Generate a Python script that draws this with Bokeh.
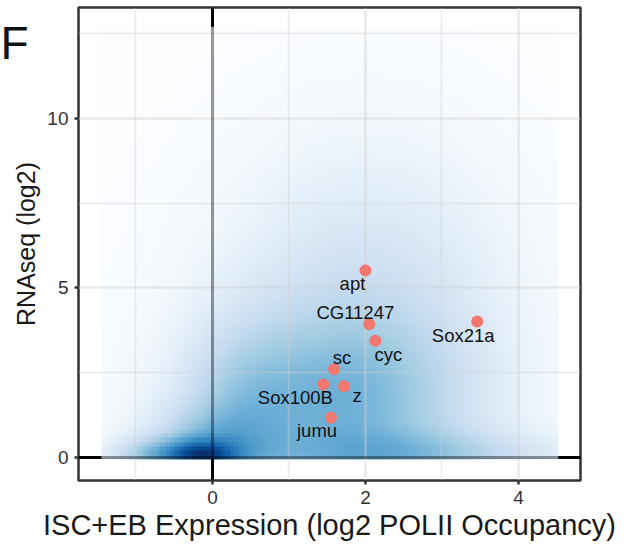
import numpy as np
from bokeh.plotting import figure
from bokeh.models import Range1d, FixedTicker, Grid, Label, LinearColorMapper, ColumnDataSource
from bokeh.core.properties import value
from bokeh.palettes import Blues9
from bokeh.embed import file_html
from bokeh.resources import INLINE

# ---------------- data ----------------
genes = ["apt", "CG11247", "cyc", "Sox21a", "sc", "Sox100B", "z", "jumu"]
gene_x = [2.00, 2.05, 2.13, 3.46, 1.59, 1.45, 1.72, 1.55]
gene_y = [5.51, 3.93, 3.44, 4.01, 2.60, 2.15, 2.10, 1.17]

x_ticks = [0, 2, 4]
y_ticks = [0, 5, 10]
ref_x = [0]
ref_y = [0]

# 2D density of all genes: blob centres, spreads and weights estimated from the raster
#          peak   wide-pk left   band   plateau upper  left-cloud
blob_x  = [-0.15, -0.10, -0.80, 2.80, 1.60, 2.00, 0.35]
blob_y  = [0.00,  0.00,  0.00,  0.00, 1.30, 4.50, 1.60]
blob_sx = [0.30,  0.55,  0.40,  1.30, 1.20, 1.30, 0.50]
blob_sy = [0.30,  0.90,  0.35,  0.50, 2.00, 3.20, 1.60]
blob_w  = [0.38,  0.30,  0.25,  0.20, 0.34, 0.17, 0.13]
dens_x_lo, dens_x_hi = -1.45, 4.52
dens_y_lo, dens_y_hi = -0.06, 12.70
dens_n = 100

# ---------------- density grid ----------------
gxs = np.linspace(dens_x_lo, dens_x_hi, dens_n)
gys = np.linspace(dens_y_lo, dens_y_hi, dens_n)
XX, YY = np.meshgrid(gxs, gys)
dens = np.zeros_like(XX)
for bx, by, sx, sy, w in zip(blob_x, blob_y, blob_sx, blob_sy, blob_w):
    dens += w * np.exp(-0.5 * (((XX - bx) / sx) ** 2 + ((YY - by) / sy) ** 2))

# smooth Blues colour ramp (light -> dark)
stops = ["#fbfdff"] + list(reversed(Blues9))[1:]
def _rgb(h):
    return [int(h[i:i + 2], 16) for i in (1, 3, 5)]
srgb = np.array([_rgb(c) for c in stops], dtype=float)
pal = []
for t in np.linspace(0, 1, 256):
    pos = t * (len(stops) - 1)
    i = min(int(pos), len(stops) - 2)
    f = pos - i
    c = srgb[i] * (1 - f) + srgb[i + 1] * f
    pal.append("#%02x%02x%02x" % tuple(int(round(v)) for v in c))

FONT = "Liberation Sans"

p = figure(width=633, height=546, output_backend="svg", toolbar_location=None,
           x_range=Range1d(-1.75, 4.81), y_range=Range1d(-0.68, 13.27),
           min_border_left=78, min_border_right=53, min_border_top=7, min_border_bottom=66)
p.background_fill_color = "white"
p.border_fill_color = "white"
p.outline_line_color = "#333333"
p.outline_line_width = 2.5
p.xgrid.visible = False
p.ygrid.visible = False

# reference lines underneath the raster (black outside the raster)
p.vspan(x=ref_x, line_color="black", line_width=3, level="image")
p.hspan(y=ref_y, line_color="black", line_width=3, level="image")

mapper = LinearColorMapper(palette=pal, low=0, high=float(dens.max()))
p.image(image=[dens], x=dens_x_lo, y=dens_y_lo, dw=dens_x_hi - dens_x_lo,
        dh=dens_y_hi - dens_y_lo, color_mapper=mapper, level="image")

# grid lines (major and minor), drawn faintly over the raster
for dim, major, minor in [(0, [2, 4], [-1, 1, 3]), (1, [5, 10], [2.5, 7.5, 12.5])]:
    g1 = Grid(dimension=dim, ticker=FixedTicker(ticks=major), grid_line_color="#d0d0d0",
              grid_line_alpha=0.43, grid_line_width=2.6)
    g2 = Grid(dimension=dim, ticker=FixedTicker(ticks=minor), grid_line_color="#d0d0d0",
              grid_line_alpha=0.43, grid_line_width=1.6)
    p.add_layout(g1, "center")
    p.add_layout(g2, "center")

# reference lines seen through the raster
p.vspan(x=ref_x, line_color="black", line_width=3, line_alpha=0.4)
p.hspan(y=ref_y, line_color="black", line_width=3, line_alpha=0.4)

src = ColumnDataSource(dict(x=gene_x, y=gene_y, gene=genes,
                            dx=[-13, -14, 13, -14, 8, -28, 13, -14],
                            dy=[13, -12, 14, 14, -12, 13, 9, 13]))
p.scatter("x", "y", source=src, size=12, fill_color="#F1786E", line_color=None)
p.text("x", "y", text="gene", source=src, x_offset="dx", y_offset="dy",
       text_align="center", text_baseline="middle", text_font=value(FONT),
       text_font_size="18.5px", text_color="#111111")

for ax in (p.xaxis[0], p.yaxis[0]):
    ax.axis_line_color = None
    ax.major_tick_in = 0
    ax.major_tick_out = 4
    ax.major_tick_line_color = "#333333"
    ax.major_tick_line_width = 2.5
    ax.minor_tick_line_color = None
    ax.major_label_text_font = FONT
    ax.major_label_text_font_size = "19px"
    ax.major_label_text_color = "#333333"
    ax.axis_label_text_font = FONT
    ax.axis_label_text_font_style = "normal"
    ax.axis_label_text_color = "#1a1a1a"
    ax.major_label_standoff = 6

p.xaxis.ticker = FixedTicker(ticks=x_ticks)
p.yaxis.ticker = FixedTicker(ticks=y_ticks)
p.xaxis.axis_label = "ISC+EB Expression (log2 POLII Occupancy)"
p.xaxis.axis_label_text_font_size = "29px"
p.xaxis.axis_label_standoff = 2
p.yaxis.axis_label = "RNAseq (log2)"
p.yaxis.axis_label_text_font_size = "25px"
p.yaxis.axis_label_standoff = 4

# panel letter: placed in a side panel so it is not clipped to the frame
p.add_layout(Label(x=0, y=42, x_units="canvas", y_units="canvas", text="F",
                   text_font=FONT, text_font_size="46px", text_color="#111111",
                   text_baseline="alphabetic", text_align="left"), "right")

open("out.html", "w").write(file_html(p, INLINE))
